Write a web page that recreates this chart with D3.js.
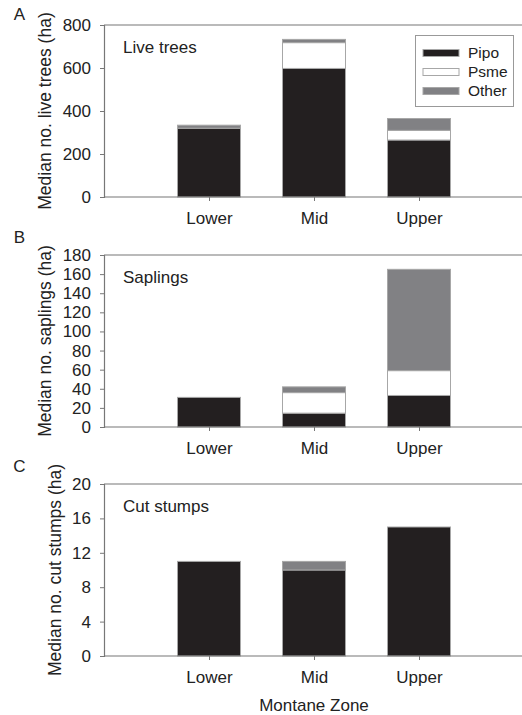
<!DOCTYPE html>
<html>
<head>
<meta charset="utf-8">
<script src="https://cdnjs.cloudflare.com/ajax/libs/d3/7.8.5/d3.min.js"></script>
<style>
body{margin:0;background:#fff;}
svg text{font-family:"Liberation Sans",Arial,sans-serif;fill:#222;}
</style>
</head>
<body>
<div id="plot"></div>
<script>
// categories and species
var zones = ["Lower","Mid","Upper"];
var species = ["Pipo","Psme","Other"];
var colors = {Pipo:"#231f20", Psme:"#ffffff", Other:"#818184"};

// values (per zone: Pipo, Psme, Other)
var liveTrees = [[320,0,14],[598,120,15],[265,45,55]];
var saplings  = [[31,0,0],[14.5,21.5,6],[33,26,106]];
var stumps    = [[11,0,0],[10,0,1],[15,0,0]];

var liveTicks = [0,200,400,600,800];
var saplingTicks = [0,20,40,60,80,100,120,140,160,180];
var stumpTicks = [0,4,8,12,16,20];

var W = 522, H = 715;
var svg = d3.select('#plot').append('svg')
    .attr('width',W).attr('height',H);

var x = d3.scalePoint().domain(zones).range([104,524]).padding(1);
var barW = 63;

var panels = [
    {letter:"A", title:"Live trees", ylab:"Median no. live trees (ha)", data:liveTrees, ticks:liveTicks, top:25, bottom:197, labX:45, letterY:20, legend:true},
    {letter:"B", title:"Saplings", ylab:"Median no. saplings (ha)", data:saplings, ticks:saplingTicks, top:255, bottom:427, labX:45, letterY:243},
    {letter:"C", title:"Cut stumps", ylab:"Median no. cut stumps (ha)", data:stumps, ticks:stumpTicks, top:484, bottom:656, labX:55, letterY:472}
];

panels.forEach(function(p){
    var y = d3.scaleLinear()
        .domain([0, d3.max(p.ticks)])
        .range([p.bottom, p.top]);

    var g = svg.append('g');

    // stack the species for each zone
    var rows = p.data.map(function(v,i){
        return {zone:zones[i], Pipo:v[0], Psme:v[1], Other:v[2]};
    });
    var stack = d3.stack().keys(species)(rows);

    stack.forEach(function(layer){
        g.selectAll('.bar-'+layer.key)
            .data(layer.filter(function(d){return d[1]-d[0] > 0;}))
            .enter()
            .append('rect')
            .attr('x',function(d){return x(d.data.zone)-barW/2;})
            .attr('y',function(d){return y(d[1]);})
            .attr('width',barW)
            .attr('height',function(d){return y(d[0])-y(d[1]);})
            .style('fill',colors[layer.key])
            .style('stroke','#a7a7a7')
            .style('stroke-width',1);
    });

    // frame top line
    g.append('line')
        .attr('x1',104).attr('x2',W).attr('y1',p.top).attr('y2',p.top)
        .style('stroke','#777').style('stroke-width',1.2);

    var yAxis = g.append('g')
        .attr('transform','translate(104,0)')
        .call(d3.axisLeft(y).tickValues(p.ticks).tickSize(4).tickPadding(9));
    var xAxis = g.append('g')
        .attr('transform','translate(0,'+p.bottom+')')
        .call(d3.axisBottom(x).tickSize(4).tickPadding(11));
    xAxis.select('.domain').attr('d','M104,0H'+W);

    [yAxis,xAxis].forEach(function(a){
        a.selectAll('.domain').style('stroke','#777').style('stroke-width',1.2);
        a.selectAll('.tick line').style('stroke','#777');
        a.selectAll('text').style('font-size','17px').style('fill','#222')
            .style('font-family','"Liberation Sans",Arial,sans-serif');
    });

    g.append('text')
        .attr('x',123).attr('y',p.top+28)
        .style('font-size','17px')
        .text(p.title);

    g.append('text')
        .attr('transform','translate('+p.labX+','+((p.top+p.bottom)/2)+') rotate(-90)')
        .attr('text-anchor','middle')
        .attr('dy','0.35em')
        .style('font-size','17.5px')
        .text(p.ylab);

    g.append('text')
        .attr('x',19.5).attr('y',p.letterY)
        .attr('text-anchor','middle')
        .style('font-size','17px')
        .text(p.letter);

    if (p.legend) {
        var lg = g.append('g');
        lg.append('rect')
            .attr('x',415.5).attr('y',35.5).attr('width',98).attr('height',71)
            .style('fill','#fff').style('stroke','#999');
        species.forEach(function(s,i){
            var cy = 53 + i*19;
            lg.append('rect')
                .attr('x',423).attr('y',cy-3.5).attr('width',36).attr('height',7)
                .style('fill',colors[s]).style('stroke','#a7a7a7');
            lg.append('text')
                .attr('x',468).attr('y',cy).attr('dy','0.35em')
                .style('font-size','15.5px')
                .text(s);
        });
    }
});

svg.append('text')
    .attr('x',314).attr('y',711)
    .attr('text-anchor','middle')
    .style('font-size','17px')
    .text('Montane Zone');
</script>
</body>
</html>
